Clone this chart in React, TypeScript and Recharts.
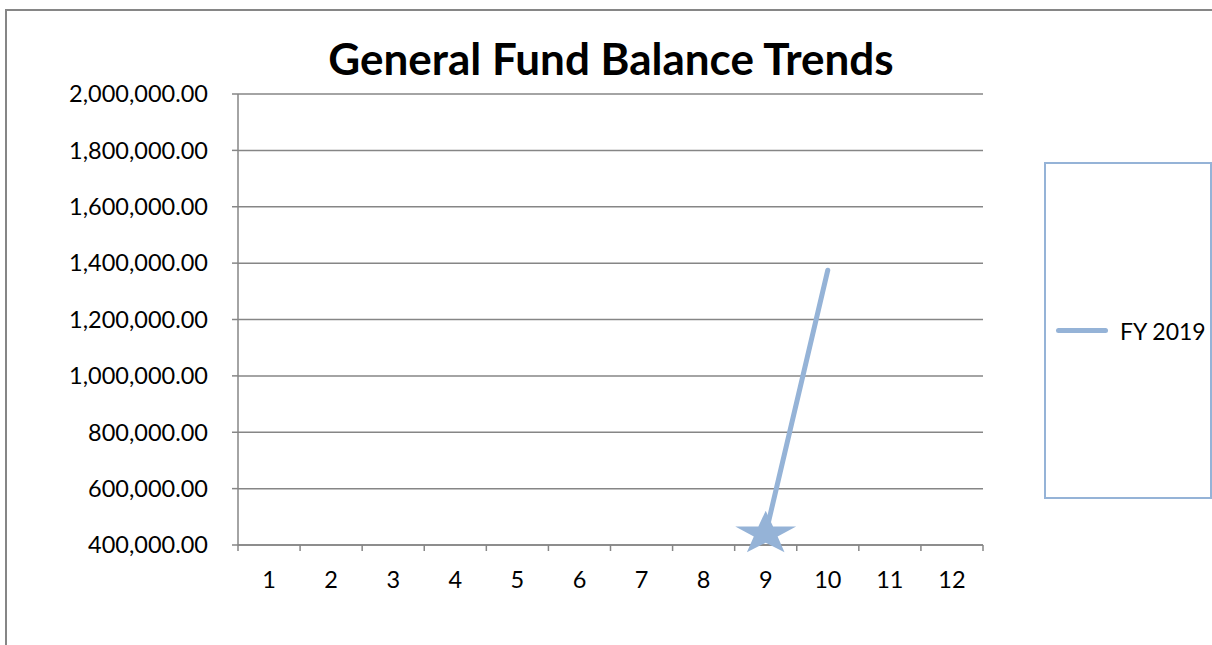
import React from 'react'
import { LineChart, Line, XAxis, YAxis, CartesianGrid } from 'recharts'

const months = [1, 2, 3, 4, 5, 6, 7, 8, 9, 10, 11, 12]
const fy2019 = [null, null, null, null, null, null, null, null, 440000, 1375000, null, null]
const yTicks = [400000, 600000, 800000, 1000000, 1200000, 1400000, 1600000, 1800000, 2000000]
const xBoundaries = [0.5, 1.5, 2.5, 3.5, 4.5, 5.5, 6.5, 7.5, 8.5, 9.5, 10.5, 11.5, 12.5]

const data = months.map((m, i) => ({ month: m, fy2019: fy2019[i] }))

const W = 1212
const H = 645
const xAxisHeight = 30
const margin = { top: 94, right: 229, bottom: 70, left: 10 }
const yAxisWidth = 228
const plotWidth = W - margin.left - margin.right - yAxisWidth
const halfBand = plotWidth / months.length / 2

const font = 'Lato, "Open Sans", sans-serif'
const gray = '#868686'
const blue = '#95B3D7'

const fmt = (v: number) =>
  v.toLocaleString('en-US', { minimumFractionDigits: 2, maximumFractionDigits: 2 })

function XTick(props: any) {
  const { x, y, payload } = props
  if (payload.value > 12) return <g />
  return (
    <text x={x + halfBand} y={y + 35} textAnchor="middle" fontSize={23.5} fontFamily={font} fill="#000">
      {payload.value + 0.5}
    </text>
  )
}

function StarDot(props: any) {
  const { cx, cy, payload } = props
  if (payload.month !== 9 || cx == null) return <g key={payload.month} />
  const R = 32
  const r = 12.5
  const pts: string[] = []
  for (let i = 0; i < 10; i++) {
    const a = -Math.PI / 2 + (i * Math.PI) / 5
    const rad = i % 2 === 0 ? R : r
    pts.push(`${cx + rad * Math.cos(a)},${cy + rad * Math.sin(a) * 0.72}`)
  }
  return <polygon key={payload.month} points={pts.join(' ')} fill={blue} />
}

export default function App() {
  return (
    <div
      style={{
        position: 'fixed',
        left: 0,
        top: 0,
        width: W,
        height: H,
        background: '#fff',
        overflow: 'hidden',
        fontFamily: font,
      }}
    >
      {/* chart area border, cut off by the picture */}
      <div
        style={{
          position: 'absolute',
          left: 5,
          top: 9,
          width: W,
          height: H,
          borderLeft: `2px solid ${gray}`,
          borderTop: `2px solid ${gray}`,
        }}
      />
      <div
        style={{
          position: 'absolute',
          left: 0,
          top: 30,
          width: 1222,
          textAlign: 'center',
          fontSize: 44,
          lineHeight: '56px',
          fontWeight: 700,
          color: '#000',
        }}
      >
        General Fund Balance Trends
      </div>
      <div style={{ position: 'absolute', left: 0, top: 0 }}>
        <LineChart width={W} height={H} data={data} margin={margin}>
          <CartesianGrid vertical={false} stroke={gray} strokeWidth={1.5} />
          <XAxis
            dataKey="month"
            type="number"
            domain={[0.5, 12.5]}
            ticks={xBoundaries}
            interval={0}
            height={xAxisHeight}
            stroke={gray}
            strokeWidth={1.5}
            tickSize={6}
            tick={<XTick />}
          />
          <YAxis
            type="number"
            domain={[400000, 2000000]}
            ticks={yTicks}
            interval={0}
            width={yAxisWidth}
            stroke={gray}
            strokeWidth={1.5}
            tickSize={6}
            tickMargin={24}
            tickFormatter={fmt}
            tick={{ fontSize: 23.5, fontFamily: font, fill: '#000' }}
          />
          <Line
            dataKey="fy2019"
            stroke={blue}
            strokeWidth={5}
            strokeLinecap="round"
            dot={<StarDot />}
            activeDot={false}
            isAnimationActive={false}
          />
        </LineChart>
      </div>
      {/* legend */}
      <div
        style={{
          position: 'absolute',
          left: 1044,
          top: 162,
          width: 164,
          height: 333,
          border: `2px solid ${blue}`,
          display: 'flex',
          alignItems: 'center',
        }}
      >
        <div style={{ width: 52, height: 5, background: blue, borderRadius: 3, marginLeft: 10 }} />
        <span style={{ marginLeft: 12, fontSize: 23, color: '#000' }}>FY 2019</span>
      </div>
    </div>
  )
}
